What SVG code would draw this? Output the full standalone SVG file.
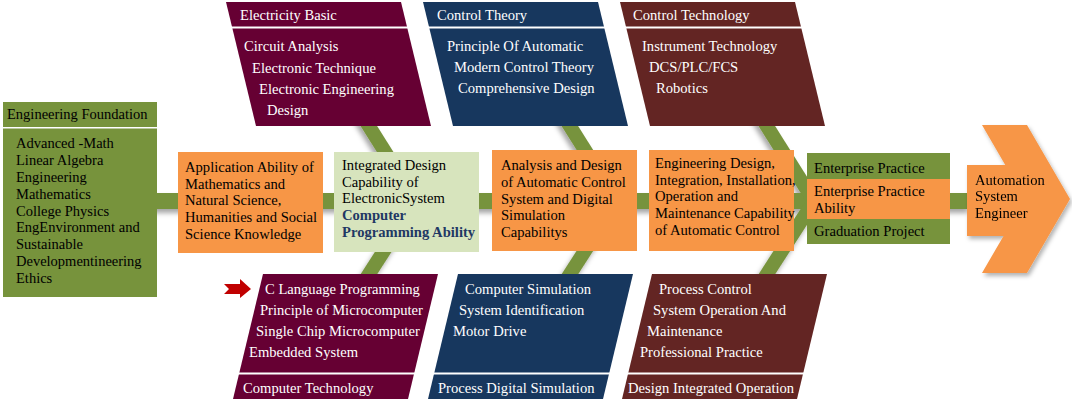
<svg xmlns="http://www.w3.org/2000/svg" width="1072" height="399" viewBox="0 0 1072 399">
<defs>
<style>
text{font-family:"Liberation Serif","Times New Roman",serif;font-size:14.6px;fill:#000}
.w{fill:#fff}
.b{font-weight:bold;fill:#1F3864}
.lf{font-size:14.5px}
.green{fill:#77933C}
.orange{fill:#F79646}
.maroon{fill:#660033}
.navy{fill:#17375E}
.brown{fill:#632523}
.sep{stroke:#fff;stroke-width:2}
.bone{stroke:#77933C;stroke-width:14;stroke-linecap:butt}
</style>
<filter id="sh" x="-10%" y="-30%" width="120%" height="180%">
<feDropShadow dx="-2" dy="4" stdDeviation="2.5" flood-color="#000" flood-opacity="0.35"/>
</filter>
<filter id="sh2" x="-10%" y="-10%" width="130%" height="130%">
<feDropShadow dx="2" dy="3" stdDeviation="2" flood-color="#000" flood-opacity="0.3"/>
</filter>
</defs>
<rect width="1072" height="399" fill="#fff"/>

<g id="connectors" filter="url(#sh)">
<rect x="150" y="193" width="820" height="16" class="green"/>
<line x1="360" y1="112" x2="416" y2="201" class="bone"/>
<line x1="360" y1="288" x2="416" y2="201" class="bone"/>
<line x1="561" y1="112" x2="617" y2="201" class="bone"/>
<line x1="561" y1="288" x2="617" y2="201" class="bone"/>
<line x1="758" y1="112" x2="814" y2="201" class="bone"/>
<line x1="758" y1="288" x2="814" y2="201" class="bone"/>
</g>

<g id="engineering-foundation">
<rect x="3" y="102" width="154" height="25" class="green"/>
<rect x="3" y="128.5" width="154" height="168.5" class="green"/>
<text x="7" y="119" class="lf">Engineering Foundation</text>
<text class="lf">
<tspan x="16" y="148">Advanced -Math</tspan>
<tspan x="16" y="165">Linear Algebra</tspan>
<tspan x="16" y="182">Engineering</tspan>
<tspan x="16" y="199">Mathematics</tspan>
<tspan x="16" y="216">College Physics</tspan>
<tspan x="16" y="232">EngEnvironment and</tspan>
<tspan x="16" y="249">Sustainable</tspan>
<tspan x="16" y="266">Developmentineering</tspan>
<tspan x="16" y="283">Ethics</tspan>
</text>
</g>

<g id="electricity-basic">
<polygon points="226,2 401,2 431,126 256,126" class="maroon"/>
<line x1="228" y1="27.5" x2="412" y2="27.5" class="sep"/>
<text x="240" y="20" class="w">Electricity Basic</text>
<text class="w">
<tspan x="244" y="51">Circuit Analysis</tspan>
<tspan x="252" y="73">Electronic Technique</tspan>
<tspan x="259" y="94">Electronic Engineering</tspan>
<tspan x="267" y="115">Design</tspan>
</text>
</g>

<g id="control-theory">
<polygon points="423,2 598,2 628,126 453,126" class="navy"/>
<line x1="425" y1="27.5" x2="609" y2="27.5" class="sep"/>
<text x="437" y="20" class="w">Control Theory</text>
<text class="w">
<tspan x="447" y="51">Principle Of Automatic</tspan>
<tspan x="454" y="72">Modern Control Theory</tspan>
<tspan x="458" y="93">Comprehensive Design</tspan>
</text>
</g>

<g id="control-technology">
<polygon points="620,2 795,2 825,126 650,126" class="brown"/>
<line x1="622" y1="27.5" x2="806" y2="27.5" class="sep"/>
<text x="633" y="20" class="w">Control Technology</text>
<text class="w">
<tspan x="642" y="51">Instrument Technology</tspan>
<tspan x="649" y="72">DCS/PLC/FCS</tspan>
<tspan x="656" y="93">Robotics</tspan>
</text>
</g>

<g id="application-ability">
<rect x="178" y="152" width="145" height="101" class="orange"/>
<text>
<tspan x="185" y="172">Application Ability of</tspan>
<tspan x="185" y="189">Mathematics and</tspan>
<tspan x="185" y="205">Natural Science,</tspan>
<tspan x="185" y="222">Humanities and Social</tspan>
<tspan x="185" y="239">Science Knowledge</tspan>
</text>
</g>

<g id="integrated-design">
<rect x="334" y="152" width="145" height="100" fill="#D7E4BD"/>
<text>
<tspan x="342" y="170">Integrated Design</tspan>
<tspan x="342" y="187">Capability of</tspan>
<tspan x="342" y="203">ElectronicSystem</tspan>
</text>
<text class="b">
<tspan x="342" y="220">Computer</tspan>
<tspan x="342" y="237">Programming Ability</tspan>
</text>
</g>

<g id="analysis-design">
<rect x="492" y="150" width="145" height="101" class="orange"/>
<text>
<tspan x="501" y="170">Analysis and Design</tspan>
<tspan x="501" y="187">of Automatic Control</tspan>
<tspan x="501" y="204">System and Digital</tspan>
<tspan x="501" y="220">Simulation</tspan>
<tspan x="501" y="237">Capabilitys</tspan>
</text>
</g>

<g id="engineering-design">
<rect x="649" y="150" width="145" height="101" class="orange"/>
<text>
<tspan x="655" y="168">Engineering Design,</tspan>
<tspan x="655" y="185">Integration, Installation,</tspan>
<tspan x="655" y="201">Operation and</tspan>
<tspan x="655" y="218">Maintenance Capability</tspan>
<tspan x="655" y="235">of Automatic Control</tspan>
</text>
</g>

<g id="enterprise-practice">
<rect x="807" y="153" width="143" height="26" class="green"/>
<rect x="807" y="179" width="143" height="40" class="orange"/>
<rect x="807" y="219" width="143" height="25" class="green"/>
<text x="814" y="173">Enterprise Practice</text>
<text x="814" y="196">Enterprise Practice</text>
<text x="814" y="213">Ability</text>
<text x="814" y="236">Graduation Project</text>
</g>

<g id="automation-engineer" filter="url(#sh2)">
<polygon points="982,125 1027,125 1070,199 1027,273 982,273 1025,199" class="orange"/>
<rect x="967" y="165" width="62" height="71" class="orange"/>
<text x="975" y="185">Automation</text>
<text x="975" y="201">System</text>
<text x="975" y="218">Engineer</text>
</g>

<g id="computer-technology">
<polygon points="263,274 438,274 408,399 233,399" class="maroon"/>
<line x1="230" y1="373.5" x2="420" y2="373.5" class="sep"/>
<polygon points="224,284 240,284 240,279 251,289 240,298 240,294 224,294 229,289" fill="#C00000"/>
<text class="w">
<tspan x="265" y="294">C Language Programming</tspan>
<tspan x="260" y="315">Principle of Microcomputer</tspan>
<tspan x="256" y="336">Single Chip Microcomputer</tspan>
<tspan x="249" y="357">Embedded System</tspan>
</text>
<text x="243" y="393" class="w">Computer Technology</text>
</g>

<g id="process-digital-simulation">
<polygon points="458,274 633,274 603,399 428,399" class="navy"/>
<line x1="425" y1="373.5" x2="615" y2="373.5" class="sep"/>
<text class="w">
<tspan x="465" y="294">Computer Simulation</tspan>
<tspan x="459" y="315">System Identification</tspan>
<tspan x="453" y="336">Motor Drive</tspan>
</text>
<text x="438" y="393" class="w">Process Digital Simulation</text>
</g>

<g id="design-integrated-operation">
<polygon points="652,274 827,274 797,399 622,399" class="brown"/>
<line x1="620" y1="373.5" x2="810" y2="373.5" class="sep"/>
<text class="w">
<tspan x="659" y="294">Process Control</tspan>
<tspan x="653" y="315">System Operation And</tspan>
<tspan x="647" y="336">Maintenance</tspan>
<tspan x="640" y="357">Professional Practice</tspan>
</text>
<text x="628" y="393" class="w">Design Integrated Operation</text>
</g>
</svg>
